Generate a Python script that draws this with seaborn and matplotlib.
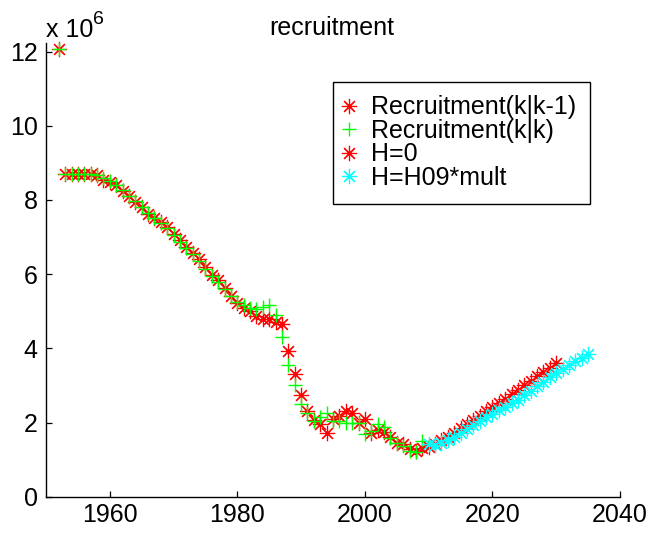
import numpy as np
import pandas as pd
import matplotlib
matplotlib.use("Agg")
import matplotlib.pyplot as plt
import seaborn as sns

# ---- data (values in units of 10^6) ----
years_pred = list(range(1952, 2010))
recruit_pred = [12.06, 8.70, 8.70, 8.70, 8.70, 8.70, 8.66, 8.55, 8.48, 8.40,
                8.25, 8.10, 7.95, 7.80, 7.62, 7.52, 7.40, 7.27, 7.08, 6.92,
                6.74, 6.58, 6.40, 6.18, 5.98, 5.84, 5.62, 5.40, 5.22, 5.08,
                5.00, 4.88, 4.78, 4.80, 4.70, 4.65, 3.92, 3.30, 2.75, 2.30,
                2.08, 1.95, 1.72, 2.10, 2.18, 2.30, 2.25, 2.00, 2.10, 1.72,
                1.80, 1.75, 1.62, 1.45, 1.42, 1.28, 1.22, 1.30]

years_filt = list(range(1952, 2010))
recruit_filt = [12.06, 8.70, 8.70, 8.70, 8.70, 8.70, 8.66, 8.58, 8.50, 8.40,
                8.28, 8.12, 7.96, 7.80, 7.64, 7.52, 7.38, 7.25, 7.05, 6.88,
                6.70, 6.54, 6.36, 6.14, 5.95, 5.80, 5.60, 5.40, 5.26, 5.18,
                5.10, 5.05, 5.12, 5.18, 4.90, 4.31, 3.55, 3.00, 2.50, 2.25,
                2.05, 2.14, 2.25, 2.05, 2.05, 1.98, 1.98, 2.00, 1.70, 1.78,
                1.95, 1.88, 1.58, 1.45, 1.38, 1.22, 1.20, 1.50]

years_h0 = list(range(2010, 2031))
recruit_h0 = [1.35, 1.42, 1.52, 1.62, 1.73, 1.84, 1.95, 2.06, 2.18, 2.30,
              2.42, 2.52, 2.64, 2.76, 2.88, 3.00, 3.13, 3.25, 3.37, 3.48, 3.60]

years_h09 = list(range(2010, 2036))
recruit_h09 = [1.42, 1.40, 1.45, 1.52, 1.62, 1.72, 1.82, 1.92, 2.03, 2.14,
               2.24, 2.33, 2.43, 2.52, 2.62, 2.74, 2.86, 2.98, 3.10, 3.22,
               3.34, 3.45, 3.56, 3.66, 3.75, 3.84]

labels = ["Recruitment(k|k-1)", "Recruitment(k|k)", "H=0", "H=H09*mult"]
xticks = [1960, 1980, 2000, 2020, 2040]
yticks = [0, 2, 4, 6, 8, 10, 12]

# ---- style ----
sns.set_theme(style="white")
plt.rcParams["font.family"] = ["Liberation Sans", "DejaVu Sans"]
plt.rcParams["text.color"] = "black"
plt.rcParams["axes.labelcolor"] = "black"
plt.rcParams["xtick.color"] = "black"
plt.rcParams["ytick.color"] = "black"
FS = 18

W, H = 649, 537
fig = plt.figure(figsize=(W / 100, H / 100), dpi=100)
ax_l, ax_r, ax_t, ax_b = 46, 620, 42.7, 496.7
ax = fig.add_axes([ax_l / W, 1 - ax_b / H, (ax_r - ax_l) / W, (ax_b - ax_t) / H])

star = (8, 2, 0)
common = dict(linestyle="none", estimator=None, ax=ax, clip_on=False)
sns.lineplot(x=years_pred, y=recruit_pred, marker=star, color="#ff0000",
             markeredgecolor="#ff0000", markersize=11, markeredgewidth=0.85,
             label=labels[0], **common)
sns.lineplot(x=years_filt, y=recruit_filt, marker="+", color="#00ff00",
             markeredgecolor="#00ff00", markersize=10, markeredgewidth=1.0,
             label=labels[1], **common)
sns.lineplot(x=years_h0, y=recruit_h0, marker=star, color="#ff0000",
             markeredgecolor="#ff0000", markersize=11, markeredgewidth=0.85,
             label=labels[2], **common)
sns.lineplot(x=years_h09, y=recruit_h09, marker=star, color="#00ffff",
             markeredgecolor="#00ffff", markersize=11, markeredgewidth=0.85,
             label=labels[3], **common)

ax.set_xlim(1950, 2040)
ax.set_ylim(0, 12.24)
ax.set_xticks(xticks)
ax.set_xticklabels([str(t) for t in xticks])
ax.set_yticks(yticks)
ax.set_yticklabels([str(t) for t in yticks])
ax.set_xlabel("")
ax.set_ylabel("")
for s in ["top", "right"]:
    ax.spines[s].set_visible(False)
for s in ["left", "bottom"]:
    ax.spines[s].set_color("black")
    ax.spines[s].set_linewidth(1.0)
ax.tick_params(axis="both", direction="in", length=4, width=0.9, colors="black",
               labelsize=FS)
ax.tick_params(axis="x", pad=4.5)
ax.tick_params(axis="y", pad=6)
ax.tick_params(axis="both", which="both", bottom=True, left=True)

# legend
leg_left = (332.7 - ax_l) / (ax_r - ax_l)
leg_top = (ax_b - 81.7) / (ax_b - ax_t)
leg = ax.legend(loc="upper left", bbox_to_anchor=(leg_left, leg_top),
                borderaxespad=0, fontsize=FS, frameon=True, fancybox=False,
                shadow=False, framealpha=1, edgecolor="black", numpoints=1,
                borderpad=0.55, handlelength=0.2, handletextpad=0.79,
                labelspacing=-0.02)
leg.get_frame().set_linewidth(1.0)
for t in leg.get_texts():
    t.set_color("black")

# title and multiplier
fig.text(332 / W, 1 - 35 / H, "recruitment", ha="center", va="baseline",
         fontsize=FS, color="black")
fig.text(46 / W, 1 - 36.7 / H, "x 10", ha="left", va="baseline",
         fontsize=FS, color="black")
fig.text(93 / W, 1 - 24 / H, "6", ha="left", va="baseline",
         fontsize=FS - 4, color="black")

fig.savefig("out.png", dpi=100)
